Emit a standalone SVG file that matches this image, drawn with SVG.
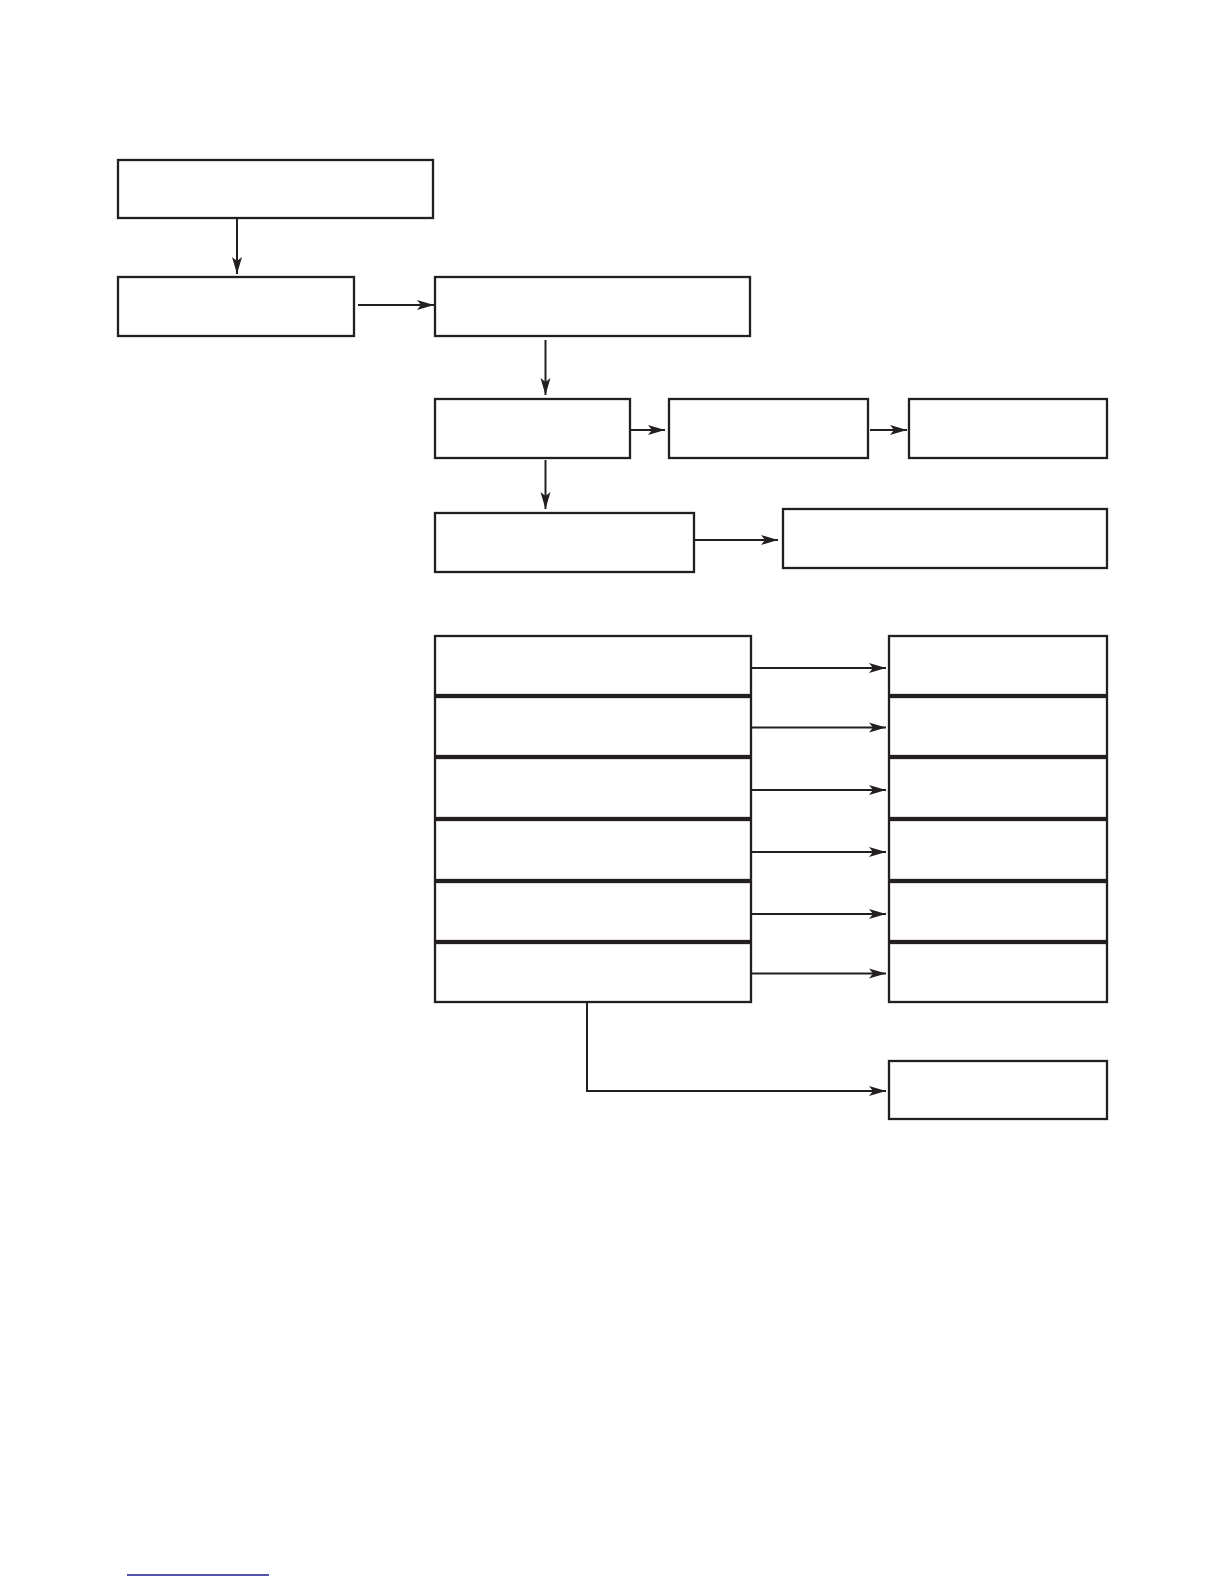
<svg xmlns="http://www.w3.org/2000/svg" width="1224" height="1584" viewBox="0 0 1224 1584">
<style>
.box{fill:#fff;stroke:#231f20;stroke-width:2.3}
.conn{fill:none;stroke:#231f20;stroke-width:2}
</style>
<defs>
<marker id="ah" markerUnits="userSpaceOnUse" markerWidth="18" markerHeight="12" refX="17" refY="6" orient="auto">
<path d="M0,1 L17,6 L0,11 L4,6 Z" fill="#231f20"/>
</marker>
</defs>
<rect width="1224" height="1584" fill="#fff"/>
<g id="n1"><rect class="box" x="118" y="160" width="315" height="58"/></g>
<g id="n2"><rect class="box" x="118" y="277" width="236" height="59"/></g>
<g id="n3"><rect class="box" x="435" y="277" width="315" height="59"/></g>
<g id="n4"><rect class="box" x="435" y="399" width="195" height="59"/></g>
<g id="n5"><rect class="box" x="669" y="399" width="199" height="59"/></g>
<g id="n6"><rect class="box" x="909" y="399" width="198" height="59"/></g>
<g id="n7"><rect class="box" x="435" y="513" width="259" height="59"/></g>
<g id="n8"><rect class="box" x="783" y="509" width="324" height="59"/></g>
<g id="l1"><rect class="box" x="435" y="636" width="316" height="59"/></g>
<g id="l2"><rect class="box" x="435" y="697" width="316" height="59"/></g>
<g id="l3"><rect class="box" x="435" y="758" width="316" height="60"/></g>
<g id="l4"><rect class="box" x="435" y="820" width="316" height="60"/></g>
<g id="l5"><rect class="box" x="435" y="882" width="316" height="59"/></g>
<g id="l6"><rect class="box" x="435" y="943" width="316" height="59"/></g>
<g id="r1"><rect class="box" x="889" y="636" width="218" height="59"/></g>
<g id="r2"><rect class="box" x="889" y="697" width="218" height="59"/></g>
<g id="r3"><rect class="box" x="889" y="758" width="218" height="60"/></g>
<g id="r4"><rect class="box" x="889" y="820" width="218" height="60"/></g>
<g id="r5"><rect class="box" x="889" y="882" width="218" height="59"/></g>
<g id="r6"><rect class="box" x="889" y="943" width="218" height="59"/></g>
<g id="r7"><rect class="box" x="889" y="1061" width="218" height="58"/></g>
<g id="connectors">
<line class="conn" x1="237" y1="219" x2="237" y2="274" marker-end="url(#ah)"/>
<line class="conn" x1="358" y1="305" x2="434" y2="305" marker-end="url(#ah)"/>
<line class="conn" x1="545.5" y1="340" x2="545.5" y2="395" marker-end="url(#ah)"/>
<line class="conn" x1="631" y1="430" x2="665" y2="430" marker-end="url(#ah)"/>
<line class="conn" x1="870" y1="430" x2="907" y2="430" marker-end="url(#ah)"/>
<line class="conn" x1="545.5" y1="460" x2="545.5" y2="509" marker-end="url(#ah)"/>
<line class="conn" x1="695" y1="540" x2="778" y2="540" marker-end="url(#ah)"/>
<line class="conn" x1="751" y1="668" x2="886" y2="668" marker-end="url(#ah)"/>
<line class="conn" x1="751" y1="727.5" x2="886" y2="727.5" marker-end="url(#ah)"/>
<line class="conn" x1="751" y1="790" x2="886" y2="790" marker-end="url(#ah)"/>
<line class="conn" x1="751" y1="852" x2="886" y2="852" marker-end="url(#ah)"/>
<line class="conn" x1="751" y1="914" x2="886" y2="914" marker-end="url(#ah)"/>
<line class="conn" x1="751" y1="973.5" x2="886" y2="973.5" marker-end="url(#ah)"/>
<polyline class="conn" points="587,1002 587,1091 886,1091" marker-end="url(#ah)"/>
</g>
<line x1="127" y1="1575" x2="269" y2="1575" stroke="#1a1a8c" stroke-width="1.5"/>
</svg>
